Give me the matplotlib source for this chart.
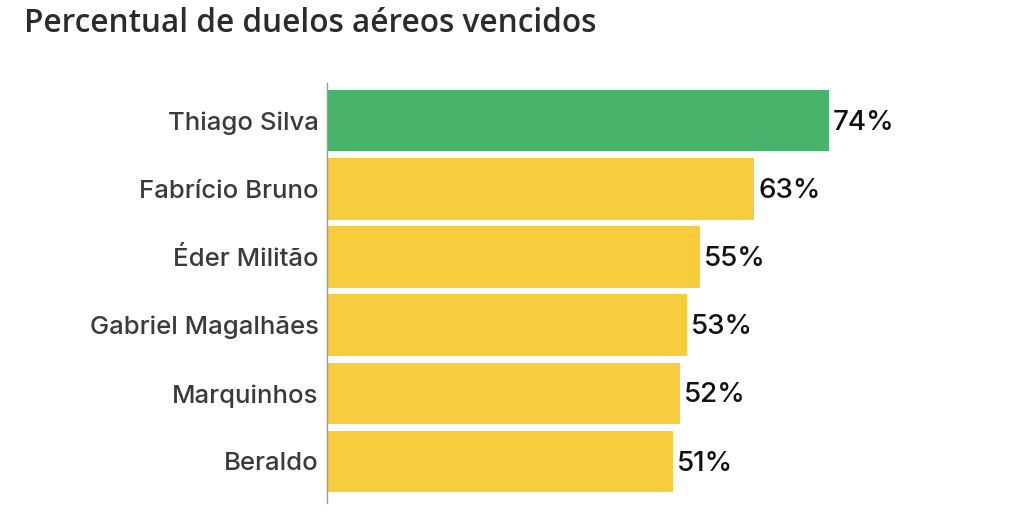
import matplotlib
matplotlib.use("Agg")
from matplotlib import pyplot as plt

# dados do gráfico
jogadores = ["Thiago Silva", "Fabrício Bruno", "Éder Militão",
             "Gabriel Magalhães", "Marquinhos", "Beraldo"]
percentuais = [74, 63, 55, 53, 52, 51]
cores = ["#47b36b", "#f9cc3d", "#f9cc3d", "#f9cc3d", "#f9cc3d", "#f9cc3d"]
titulo = "Percentual de duelos aéreos vencidos"

fig = plt.figure(figsize=(10.17, 5.26), dpi=100)
ax = fig.add_axes([327 / 1017, 23 / 526, 678.4 / 1017, 420 / 526])

y = list(range(len(jogadores)))
ax.barh(y, percentuais, height=0.9, color=cores)
ax.set_xlim(0, 100)
ax.set_ylim(5.61, -0.553)

for yi, v in zip(y, percentuais):
    ax.annotate(f"{v}%", (v, yi), xytext=(3, -1.5), textcoords="offset points",
                va="center", ha="left", fontsize=20, color="#111111",
                weight="medium", family=["Inter", "DejaVu Sans"])

ax.set_yticks(y)
ax.set_yticklabels(jogadores, fontsize=18.5, color="#3a3a3a", weight="medium",
                   family=["Inter", "DejaVu Sans"])
for lbl in ax.get_yticklabels():
    lbl.set_y(lbl.get_position()[1])
ax.tick_params(axis="y", length=0, pad=6)
ax.set_xticks([])

for s in ["top", "right", "bottom"]:
    ax.spines[s].set_visible(False)
ax.spines["left"].set_color("#999999")
ax.spines["left"].set_linewidth(1)

fig.text(24 / 1017, 1 - 32 / 526, titulo, fontsize=22.7, color="#2b2b2b",
         weight="semibold", family=["Open Sans", "DejaVu Sans"],
         va="baseline", ha="left")

fig.savefig("out.png", dpi=100)
